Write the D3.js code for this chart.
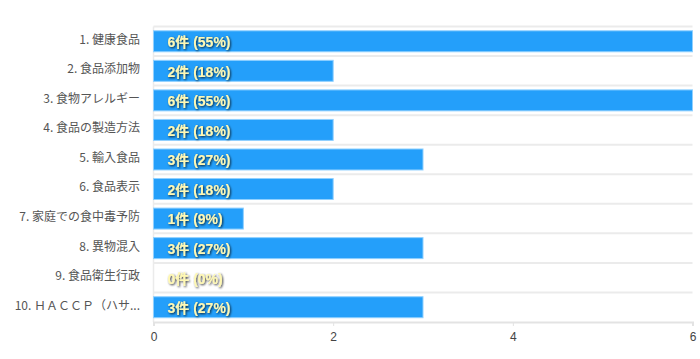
<!DOCTYPE html>
<html><head><meta charset="utf-8">
<script src="https://cdn.jsdelivr.net/npm/d3@7"></script>
<style>
html,body{margin:0;padding:0;background:#fff;}
svg{display:block;font-family:"Noto Sans CJK JP","Noto Sans",sans-serif;}
</style></head>
<body><svg id="c" width="700" height="359"></svg>
<script>
const categories = ["1. 健康食品","2. 食品添加物","3. 食物アレルギー","4. 食品の製造方法","5. 輸入食品","6. 食品表示","7. 家庭での食中毒予防","8. 異物混入","9. 食品衛生行政","10. ＨＡＣＣＰ（ハサ..."];
const counts = [6,2,6,2,3,2,1,3,0,3];
const percents = [55,18,55,18,27,18,9,27,0,27];
const xTicks = [0,2,4,6];

(function(){
const svg = d3.select("#c");
const pLeft = 153.5, pRight = 692.5, pTop = 26.5, pBottom = 322;
const x = d3.scaleLinear().domain([0,6]).range([pLeft,pRight]);
const y = d3.scaleBand().domain(categories).range([pTop,pBottom]).paddingInner(0.29).paddingOuter(0.145);

const defs = svg.append("defs");
const f = defs.append("filter").attr("id","sh").attr("x","-10%").attr("y","-30%").attr("width","130%").attr("height","170%");
f.append("feDropShadow").attr("dx",1).attr("dy",1).attr("stdDeviation",0.9).attr("flood-color","#000").attr("flood-opacity",0.8);

const step = y.step();
const bounds = d3.range(categories.length).map(i => pTop + i*step);
svg.append("g").selectAll("line").data(bounds).join("line")
  .attr("x1",pLeft).attr("x2",pRight).attr("y1",d=>d).attr("y2",d=>d)
  .attr("stroke","#ebebeb").attr("stroke-width",2);
svg.append("line").attr("x1",pLeft).attr("x2",pLeft).attr("y1",pTop).attr("y2",pBottom)
  .attr("stroke","#ebebeb").attr("stroke-width",1.5);

svg.append("g").selectAll("rect").data(categories).join("rect")
  .attr("x",pLeft).attr("y",d=>y(d))
  .attr("width",(d,i)=>Math.max(0,x(counts[i])-pLeft))
  .attr("height",y.bandwidth())
  .attr("fill",(d,i)=>counts[i]>0?"#249ffa":"none")
  .attr("stroke",(d,i)=>counts[i]>0?"#8fd0ff":"none").attr("stroke-width",1);

svg.append("g").selectAll("text").data(categories).join("text")
  .attr("x",pLeft+14).attr("y",d=>y(d)+y.bandwidth()/2)
  .attr("dy","0.42em")
  .attr("font-size",14).attr("font-weight","bold")
  .attr("font-family","'Liberation Sans','Noto Sans CJK JP',sans-serif")
  .attr("fill","#fff8b4").attr("filter","url(#sh)")
  .text((d,i)=>counts[i]+"件 ("+percents[i]+"%)");

svg.append("g").selectAll("text").data(categories).join("text")
  .attr("x",140).attr("y",d=>y(d)+y.bandwidth()/2)
  .attr("dy","0.2em")
  .attr("text-anchor","end").attr("font-size",12).attr("fill","#555")
  .text(d=>d);

const ax = svg.append("g").attr("transform",`translate(0,${pBottom})`)
  .call(d3.axisBottom(x).tickValues(xTicks).tickSize(4).tickPadding(6).tickFormat(d3.format("d")));
ax.select(".domain").attr("stroke","#e3e3e3").attr("stroke-width",2);
ax.selectAll(".tick line").attr("stroke","#e3e3e3");
ax.selectAll(".tick text").attr("font-size",12).attr("fill","#444").attr("font-family","'Liberation Sans',sans-serif");
})();
</script></body></html>
